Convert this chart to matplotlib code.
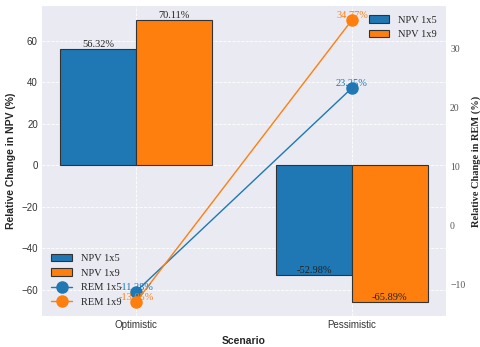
import numpy as np
import matplotlib
matplotlib.use("Agg")
import matplotlib.pyplot as plt
import seaborn as sns

# Data
scenarios = ["Optimistic", "Pessimistic"]
npv_1x5 = [56.32, -52.98]
npv_1x9 = [70.11, -65.89]
rem_1x5 = [-11.28, 23.25]
rem_1x9 = [-13.05, 34.77]

sns.set_style("darkgrid")
serif = ["Liberation Serif", "DejaVu Serif"]
sans = ["Liberation Sans", "DejaVu Sans"]

blue = "#1f77b4"
orange = "#ff7f0e"
width = 0.35
x = np.arange(len(scenarios))

fig = plt.figure(figsize=(4.8, 3.47), dpi=100)
ax1 = fig.add_axes([0.0875, 0.089, 0.8415, 0.894])
ax2 = ax1.twinx()

b1 = ax1.bar(x - width / 2, npv_1x5, width, color=blue, edgecolor="#333333",
             linewidth=0.8, label="NPV 1x5")
b2 = ax1.bar(x + width / 2, npv_1x9, width, color=orange, edgecolor="#333333",
             linewidth=0.8, label="NPV 1x9")

for bars, vals in [(b1, npv_1x5), (b2, npv_1x9)]:
    for bar, v in zip(bars, vals):
        ax1.text(bar.get_x() + bar.get_width() / 2, v, f"{v:.2f}%",
                 ha="center", va="bottom", fontsize=7.5, family=serif,
                 color="#222222")

l1, = ax2.plot(x, rem_1x5, "-o", color=blue, lw=1, ms=8, label="REM 1x5")
l2, = ax2.plot(x, rem_1x9, "-o", color=orange, lw=1, ms=8, label="REM 1x9")
for vals, c in [(rem_1x5, blue), (rem_1x9, orange)]:
    for xi, v in zip(x, vals):
        ax2.text(xi, v, f"{v:.2f}%", ha="center", va="bottom", fontsize=7.5,
                 family=serif, color=c)

ax1.set_xticks(x)
ax1.set_xticklabels(scenarios)
ax1.grid(True, linestyle="--", linewidth=0.6, color="white")
ax2.grid(False)

for lab in ax1.get_xticklabels() + ax1.get_yticklabels():
    lab.set_family(sans)
    lab.set_fontsize(7)
    lab.set_color("#333333")
for lab in ax2.get_yticklabels():
    lab.set_family(serif)
    lab.set_fontsize(7)
    lab.set_color("#555555")
ax1.tick_params(axis="both", length=0, pad=3)
ax2.tick_params(axis="y", length=0, pad=3)

ax1.set_xlabel("Scenario", fontsize=7.5, fontweight="bold", family=sans)
ax1.set_ylabel("Relative Change in NPV (%)", fontsize=7.5, fontweight="bold",
               family=sans)
ax2.set_ylabel("Relative Change in REM (%)", fontsize=7.5, fontweight="bold",
               family=serif)

for sp in list(ax1.spines.values()) + list(ax2.spines.values()):
    sp.set_visible(False)

ax1.legend([b1, b2, l1, l2], ["NPV 1x5", "NPV 1x9", "REM 1x5", "REM 1x9"],
           loc="lower left", frameon=False, prop={"family": serif, "size": 7.5})
ax2.legend([b1, b2], ["NPV 1x5", "NPV 1x9"], loc="upper right", frameon=False,
           prop={"family": serif, "size": 7.5})

fig.savefig("out.png", dpi=100)
